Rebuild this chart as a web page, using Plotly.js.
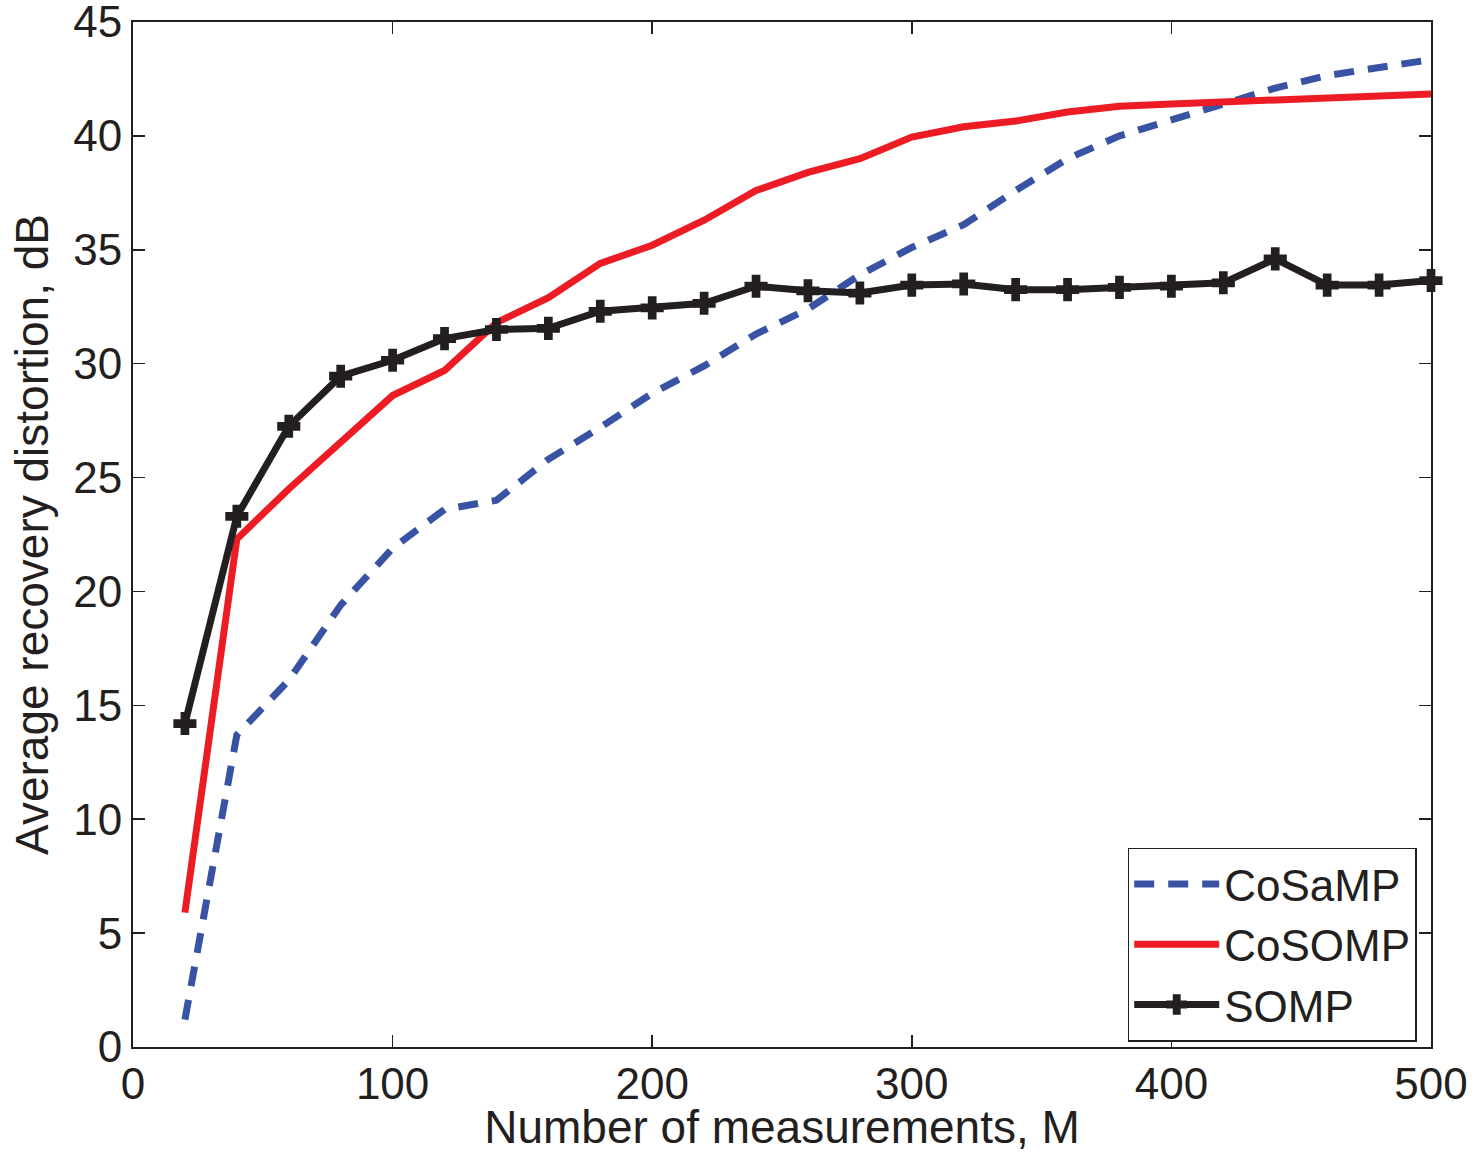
<!DOCTYPE html>
<html>
<head>
<meta charset="utf-8">
<script src="https://cdn.plot.ly/plotly-3.0.1.min.js"></script>
<style>html,body{margin:0;padding:0;background:#fff;}</style>
</head>
<body>
<div id="chart" style="width:1479px;height:1153px;"></div>
<script>
const M = [20,40,60,80,100,120,140,160,180,200,220,240,260,280,300,320,340,360,380,400,420,440,460,480,500];
const cosamp = [1.2,13.7,16.1,19.4,21.9,23.6,24.0,25.8,27.2,28.7,29.9,31.3,32.4,33.9,35.1,36.1,37.6,39.0,40.0,40.7,41.35,42.1,42.65,43.0,43.35];
const cosomp = [5.9,22.3,24.5,26.5,28.6,29.7,31.8,32.9,34.4,35.2,36.3,37.6,38.4,39.0,39.95,40.4,40.65,41.05,41.3,41.4,41.5,41.57,41.7,41.75,41.84];
const somp = [14.2,23.3,27.25,29.45,30.15,31.1,31.5,31.55,32.3,32.45,32.65,33.4,33.2,33.1,33.45,33.5,33.25,33.25,33.35,33.4,33.55,34.6,33.45,33.45,33.65];
const names = ["CoSaMP","CoSOMP","SOMP"];
const xTitle = "Number of measurements, M";
const yTitle = "Average recovery distortion, dB";

const fam = "Liberation Sans, Arial, Helvetica, sans-serif";
const tickFont = {family: fam, color: "#231f20", size: 44};
const titleFont = {family: fam, color: "#231f20", size: 46};
const legendFont = {family: fam, color: "#231f20", size: 44};

const traces = [
  {x: M, y: cosamp, name: names[0], mode: "lines", cliponaxis: false,
   line: {color: "#3953a4", width: 7, dash: "20px,14px"}},
  {x: M, y: cosomp, name: names[1], mode: "lines", cliponaxis: false,
   line: {color: "#ed1c24", width: 7}},
  {x: M, y: somp, name: names[2], mode: "lines+markers", cliponaxis: false,
   line: {color: "#231f20", width: 7},
   marker: {symbol: "cross", size: 18, color: "#231f20", line: {color: "#231f20", width: 1.5}}}
];

const axisCommon = {
  showgrid: false, zeroline: false, showline: true, mirror: "ticks",
  linecolor: "#231f20", linewidth: 2, ticks: "inside", ticklen: 12,
  tickcolor: "#231f20", tickwidth: 1.5, tickfont: tickFont,
  ticklabeloverflow: "allow"
};

const layout = {
  width: 1479, height: 1153,
  margin: {l: 133, r: 48, t: 22, b: 106},
  paper_bgcolor: "#fff", plot_bgcolor: "#fff",
  font: tickFont,
  showlegend: true,
  xaxis: Object.assign({}, axisCommon, {
    range: [0, 500], tickvals: [0,100,200,300,400,500],
    ticklabelstandoff: -3,
    title: {text: xTitle, font: titleFont, standoff: 2}
  }),
  yaxis: Object.assign({}, axisCommon, {
    range: [0, 45], tickvals: [0,5,10,15,20,25,30,35,40,45],
    title: {text: yTitle, font: titleFont, standoff: 10}
  }),
  legend: {
    x: 0.989, xanchor: "right", y: 0.1, yanchor: "middle",
    bgcolor: "#fff", bordercolor: "#231f20", borderwidth: 1.5,
    font: legendFont, itemwidth: 85, tracegroupgap: 0,
    entrywidth: 320, entrywidthmode: "pixels"
  }
};

Plotly.newPlot("chart", traces, layout, {displayModeBar: false, staticPlot: true});
</script>
</body>
</html>
